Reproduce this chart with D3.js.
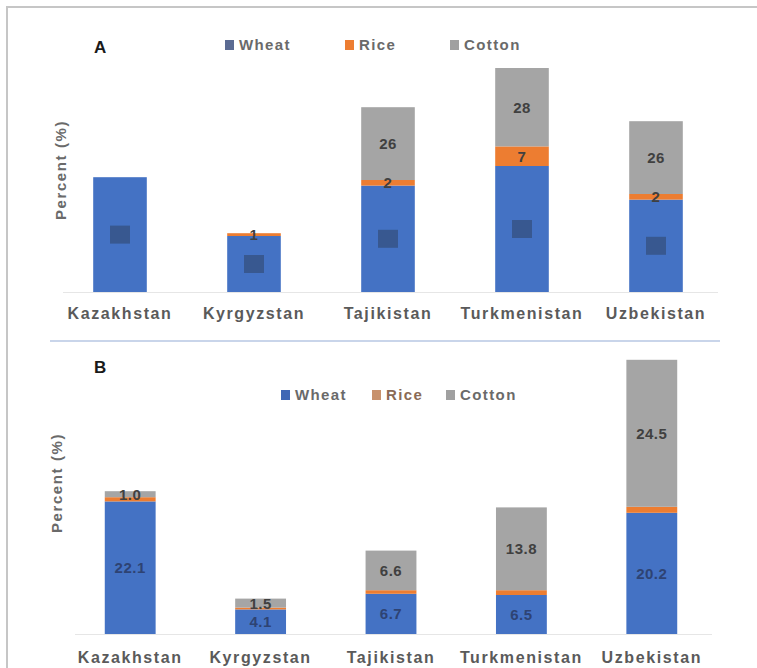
<!DOCTYPE html>
<html><head><meta charset="utf-8">
<script src="https://cdn.jsdelivr.net/npm/d3@7"></script>
<style>
html,body{margin:0;padding:0;background:#fff;}
svg{display:block;font-family:"Liberation Sans",Arial,sans-serif;}
</style></head>
<body>
<svg id="chart" width="757" height="668"></svg>
<script>
const countries = ["Kazakhstan","Kyrgyzstan","Tajikistan","Turkmenistan","Uzbekistan"];
const seriesNames = ["Wheat","Rice","Cotton"];
const seriesColors = ["#4472c4","#ed7d31","#a5a5a5"];
// Panel A
const wheatA  = [41, 20, 38, 45, 33];
const riceA   = [0, 1, 2, 7, 2];
const cottonA = [0, 0, 26, 28, 26];
const riceLabelsA   = ["", "1", "2", "7", "2"];
const cottonLabelsA = ["", "", "26", "28", "26"];
// Panel B
const wheatB  = [22.1, 4.1, 6.7, 6.5, 20.2];
const riceB   = [0.7, 0.3, 0.6, 0.8, 1.0];
const cottonB = [1.0, 1.5, 6.6, 13.8, 24.5];
const wheatLabelsB  = ["22.1","4.1","6.7","6.5","20.2"];
const cottonLabelsB = ["1.0","1.5","6.6","13.8","24.5"];
const legendColorsA = ["#5b6b93","#ed7d31","#a0a0a0"];
const legendColorsB = ["#3f67b5","#c8916c","#a0a0a0"];

const svg = d3.select("#chart");

// frame
svg.append("line").attr("x1",7).attr("x2",757).attr("y1",7).attr("y2",7).attr("stroke","#c6c6c6").attr("stroke-width",2);
svg.append("line").attr("x1",7).attr("x2",7).attr("y1",6).attr("y2",668).attr("stroke","#c6c6c6").attr("stroke-width",2);
// separator
svg.append("line").attr("x1",50).attr("x2",720).attr("y1",341).attr("y2",341).attr("stroke","#c9d5ea").attr("stroke-width",2);

function panel(cfg){
  const g = svg.append("g");
  const x = d3.scaleBand().domain(countries).range(cfg.xRange).paddingInner(cfg.pin).paddingOuter(cfg.pin/2);
  const y = d3.scaleLinear().domain(cfg.yDomain).range(cfg.yRange);
  const rows = countries.map((c,i)=>({country:c, Wheat:cfg.wheat[i], Rice:cfg.rice[i], Cotton:cfg.cotton[i]}));
  const stack = d3.stack().keys(seriesNames)(rows);

  // baseline
  g.append("line").attr("x1",cfg.xRange[0]+10).attr("x2",cfg.xRange[1]-5)
    .attr("y1",y(0)+0.5).attr("y2",y(0)+0.5).attr("stroke","#e6e6e6").attr("stroke-width",1);

  stack.forEach((s,si)=>{
    g.append("g").selectAll("rect").data(s).join("rect")
      .attr("x",d=>x(d.data.country))
      .attr("width",x.bandwidth())
      .attr("y",d=>y(d[1]))
      .attr("height",d=>Math.max(0,y(d[0])-y(d[1])))
      .attr("fill",seriesColors[si]);
  });

  // labels
  const lab = (si, labels, color) => {
    g.append("g").selectAll("text").data(stack[si]).join("text")
      .attr("x",d=>x(d.data.country)+x.bandwidth()/2)
      .attr("y",d=>(y(d[0])+y(d[1]))/2)
      .attr("dy","0.36em")
      .attr("text-anchor","middle")
      .attr("font-size",cfg.labelSize).attr("font-weight","bold")
      .attr("letter-spacing",0.5)
      .attr("fill",color)
      .text((d,i)=>labels[i]);
  };
  if (cfg.riceLabels) lab(1, cfg.riceLabels, "#404040");
  if (cfg.cottonLabels) lab(2, cfg.cottonLabels, "#404040");
  if (cfg.wheatLabels) lab(0, cfg.wheatLabels, "#2e4373");
  if (cfg.maskWheat) {
    g.append("g").selectAll("rect").data(stack[0]).join("rect")
      .attr("x",d=>x(d.data.country)+x.bandwidth()/2-10)
      .attr("y",d=>(y(d[0])+y(d[1]))/2-9)
      .attr("width",20).attr("height",18)
      .attr("fill","#34507f").attr("opacity",0.75);
  }

  // x labels
  g.append("g").selectAll("text").data(countries).join("text")
    .attr("x",d=>x(d)+x.bandwidth()/2)
    .attr("y",cfg.xLabelY)
    .attr("text-anchor","middle")
    .attr("font-size",16).attr("font-weight","bold")
    .attr("letter-spacing",1.6)
    .attr("fill","#5a5a5a")
    .text(d=>d);

  // y title
  g.append("text")
    .attr("transform",`translate(${cfg.yTitleX},${cfg.yTitleY}) rotate(-90)`)
    .attr("text-anchor","middle")
    .attr("font-size",15).attr("font-weight","bold")
    .attr("letter-spacing",1.6)
    .attr("fill","#6a6a6a")
    .text("Percent (%)");

  // panel letter
  g.append("text").attr("x",cfg.letterX).attr("y",cfg.letterY)
    .attr("font-size",17).attr("font-weight","bold").attr("fill","#1a1a1a")
    .text(cfg.letter);

  // legend
  const lg = g.append("g");
  seriesNames.forEach((n,i)=>{
    const lx = cfg.legendX[i];
    lg.append("rect").attr("x",lx).attr("y",cfg.legendY-9).attr("width",9).attr("height",10)
      .attr("fill",cfg.legendColors[i]);
    lg.append("text").attr("x",lx+14).attr("y",cfg.legendY+1)
      .attr("font-size",15).attr("font-weight","bold").attr("letter-spacing",1.4)
      .attr("fill", i===1 && cfg.letter==="B" ? "#8a6a55" : "#6a6a6a")
      .text(n);
  });
}

panel({
  letter:"A", letterX:94, letterY:53,
  xRange:[53,723], pin:0.6,
  yDomain:[0,80], yRange:[292,68],
  wheat:wheatA, rice:riceA, cotton:cottonA,
  riceLabels:riceLabelsA, cottonLabels:cottonLabelsA, maskWheat:true,
  labelSize:15,
  xLabelY:319, yTitleX:66, yTitleY:170,
  legendX:[225,345,450], legendY:49, legendColors:legendColorsA
});

panel({
  letter:"B", letterX:94, letterY:373,
  xRange:[65,717], pin:0.61,
  yDomain:[0,46], yRange:[634,358],
  wheat:wheatB, rice:riceB, cotton:cottonB,
  wheatLabels:wheatLabelsB, cottonLabels:cottonLabelsB,
  labelSize:15,
  xLabelY:663, yTitleX:62, yTitleY:483,
  legendX:[281,372,446], legendY:399, legendColors:legendColorsB
});
</script>
</body></html>
